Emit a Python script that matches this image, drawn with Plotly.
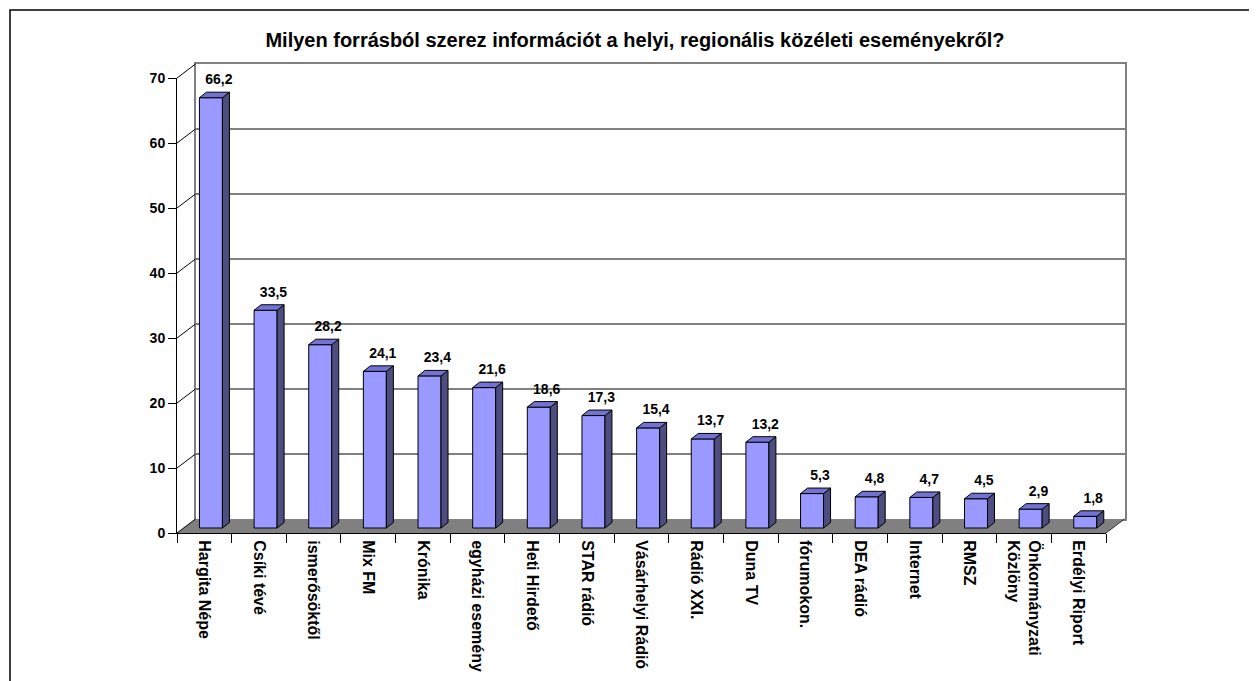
import plotly.graph_objects as go

# ---------------- data ----------------
categories = ["Hargita Népe", "Csíki tévé", "ismerősöktől", "Mix FM", "Krónika",
              "egyházi esemény", "Heti Hirdető", "STAR rádió", "Vásárhelyi Rádió",
              "Rádió XXI.", "Duna TV", "fórumokon.", "DEA rádió", "Internet", "RMSZ",
              "Önkormányzati<br>Közlöny", "Erdélyi Riport"]
values = [66.2, 33.5, 28.2, 24.1, 23.4, 21.6, 18.6, 17.3, 15.4, 13.7, 13.2,
          5.3, 4.8, 4.7, 4.5, 2.9, 1.8]
y_ticks = [0, 10, 20, 30, 40, 50, 60, 70]
title = "Milyen forrásból szerez információt a helyi, regionális közéleti eseményekről?"

# ---------------- geometry (page pixels) ----------------
W, H = 1257, 681
OX, OY = 8, 8                 # default page body margin offset of the figure
FX0, FX1 = 177, 1106          # front category axis extent
FY0, FYT = 533, 78            # front value axis: 0 and top
DX, DY = 18.5, 14             # 3D depth of the plot box
BAR_DEPTH_FRAC = 5 / 14       # where bar fronts stand within depth
BAR_W = 23                    # bar front width px
BDX, BDY = 7, 5.5             # bar side/top depth px
LBL_DX, LBL_DY = 14.5, 17     # data label offset px


def fx(px):
    return (px - OX) / W


def fy(py):
    return 1 - (py - OY) / H


n = len(categories)
ymax = y_ticks[-1]
CW = (FX1 - FX0) / n
U = (FY0 - FYT) / ymax

FONT = "Arial, Liberation Sans, sans-serif"
FRONT = "#9999FF"
SIDE = "#4D4D80"
TOP = "#7272D2"
GRAY = "#808080"

dxw, dyw = DX / CW, DY / U
b0 = (BAR_DEPTH_FRAC * DY) / U
boff = BAR_DEPTH_FRAC * DX / CW
bw = BAR_W / CW
bdx, bdy = BDX / CW, BDY / U
idx = list(range(n))

fig = go.Figure()

# invisible helper on the back wall axes (makes the grid subplot render)
fig.add_trace(go.Scatter(x=[0], y=[0], mode="markers", marker=dict(opacity=0),
                         hoverinfo="skip", showlegend=False, xaxis="x", yaxis="y"))

# invisible trace on the front axes so the category axis shows its labels
fig.add_trace(go.Scatter(x=categories, y=values, mode="markers",
                         marker=dict(opacity=0), hoverinfo="skip",
                         showlegend=False, xaxis="x3", yaxis="y3"))

# bar front faces
fig.add_trace(go.Bar(x=[i + boff for i in idx], y=values, base=[b0] * n, width=bw,
                     marker=dict(color=FRONT, line=dict(color="black", width=1)),
                     hoverinfo="skip", showlegend=False, xaxis="x2", yaxis="y2"))

# side and top faces
sx, sy, tx, ty = [], [], [], []
for i, v in zip(idx, values):
    xl = i + boff - bw / 2
    xr = i + boff + bw / 2
    top = b0 + v
    sx += [xr, xr + bdx, xr + bdx, xr, xr, None]
    sy += [b0, b0 + bdy, top + bdy, top, b0, None]
    tx += [xl, xr, xr + bdx, xl + bdx, xl, None]
    ty += [top, top, top + bdy, top + bdy, top, None]
fig.add_trace(go.Scatter(x=sx, y=sy, mode="lines", fill="toself", fillcolor=SIDE,
                         line=dict(color="black", width=1), hoverinfo="skip",
                         showlegend=False, xaxis="x2", yaxis="y2"))
fig.add_trace(go.Scatter(x=tx, y=ty, mode="lines", fill="toself", fillcolor=TOP,
                         line=dict(color="black", width=1), hoverinfo="skip",
                         showlegend=False, xaxis="x2", yaxis="y2"))

# data labels
fig.add_trace(go.Scatter(x=[i + LBL_DX / CW for i in idx],
                         y=[b0 + v + LBL_DY / U for v in values],
                         mode="text",
                         text=[f"{v:.1f}".replace(".", ",") for v in values],
                         textposition="middle center",
                         textfont=dict(family=FONT, size=14, color="black", weight="bold"),
                         hoverinfo="skip", showlegend=False, xaxis="x2", yaxis="y2"))

shapes = []
xa, xb = -0.5, n - 0.5
# floor
shapes.append(dict(type="path", xref="x2", yref="y2", layer="below",
                   path=f"M {xa},0 L {xb},0 L {xb + dxw},{dyw} L {xa + dxw},{dyw} Z",
                   fillcolor=GRAY, line=dict(width=0)))
# floor right edge
shapes.append(dict(type="line", xref="x2", yref="y2", layer="above",
                   x0=xb, y0=0, x1=xb + dxw, y1=dyw, line=dict(color="#303030", width=1)))
# left wall diagonals
for t in y_ticks:
    shapes.append(dict(type="line", xref="x2", yref="y2", layer="below",
                       x0=xa, y0=t, x1=xa + dxw, y1=t + dyw,
                       line=dict(color="black", width=1)))
# outer border
shapes.append(dict(type="rect", xref="paper", yref="paper",
                   x0=fx(10), x1=1.05, y0=-0.05, y1=fy(10),
                   line=dict(color="black", width=1.5)))

fig.update_layout(
    width=W, height=H, margin=dict(l=0, r=0, t=0, b=0, autoexpand=False),
    paper_bgcolor="white", plot_bgcolor="rgba(0,0,0,0)",
    showlegend=False, shapes=shapes,
    title=dict(text=title, x=fx(635), y=fy(40), xanchor="center", yanchor="middle",
               xref="paper", yref="paper", automargin=False,
               font=dict(family=FONT, size=20, color="black", weight="bold")),
    font=dict(family=FONT, color="black"),
    # back wall (grid)
    xaxis=dict(domain=[fx(FX0 + DX), fx(FX1 + DX)], range=[-0.5, n - 0.5], anchor="y",
               showgrid=False, zeroline=False, showticklabels=False, ticks="",
               showline=True, linecolor=GRAY, linewidth=1.5, mirror=True,
               fixedrange=True, automargin=False),
    yaxis=dict(domain=[fy(FY0 - DY), fy(FYT - DY)], range=[0, ymax], anchor="x",
               tickvals=y_ticks, showgrid=True, gridcolor=GRAY, gridwidth=1.5,
               zeroline=False, showticklabels=False, ticks="",
               showline=True, linecolor=GRAY, linewidth=1.5, mirror=True,
               fixedrange=True, automargin=False),
    # world coordinates (full figure, same scale as front plane)
    xaxis2=dict(domain=[0, 1], range=[(OX - FX0) / CW - 0.5, (OX + W - FX0) / CW - 0.5],
                visible=False, anchor="y2", fixedrange=True, automargin=False),
    yaxis2=dict(domain=[0, 1], range=[(FY0 - OY - H) / U, (FY0 - OY) / U],
                visible=False, anchor="x2", fixedrange=True, automargin=False),
    # front axes
    xaxis3=dict(domain=[fx(FX0), fx(FX1)], type="category", categoryorder="array",
                categoryarray=categories, range=[-0.5, n - 0.5], anchor="y3",
                tickson="boundaries", ticks="outside", ticklen=9, tickcolor="black",
                tickwidth=1, showline=True, linecolor="black", linewidth=1,
                showgrid=False, zeroline=False, tickangle=90, ticklabelstandoff=3,
                tickfont=dict(family=FONT, size=16, color="black", weight="bold"),
                fixedrange=True, automargin=False),
    yaxis3=dict(domain=[fy(FY0), fy(FYT)], range=[0, ymax], anchor="x3",
                tickvals=y_ticks, ticks="outside", ticklen=8, tickcolor="black",
                showline=True, linecolor="black", linewidth=1, showgrid=False,
                zeroline=False,
                tickfont=dict(family=FONT, size=14, color="black", weight="bold"),
                fixedrange=True, automargin=False),
)

fig.write_html("out.html")
